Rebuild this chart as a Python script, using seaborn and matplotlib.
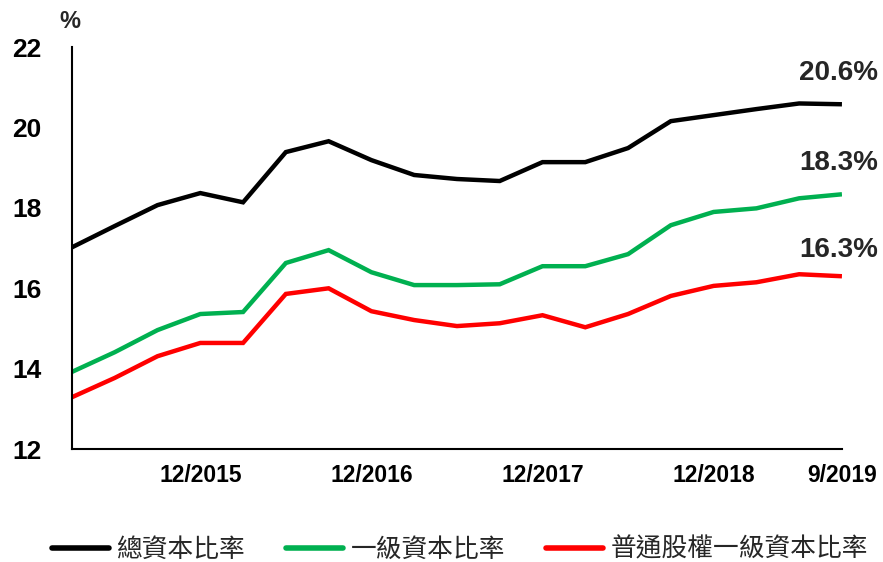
import matplotlib
matplotlib.use('Agg')
import matplotlib.pyplot as plt
import seaborn as sns
import numpy as np
import pandas as pd
from matplotlib.lines import Line2D

quarters = ['3/2015', '6/2015', '9/2015', '12/2015', '3/2016', '6/2016', '9/2016', '12/2016',
            '3/2017', '6/2017', '9/2017', '12/2017', '3/2018', '6/2018', '9/2018', '12/2018',
            '3/2019', '6/2019', '9/2019']
total_ratio = [17.02, 17.55, 18.07, 18.37, 18.14, 19.39, 19.66, 19.19, 18.82, 18.72, 18.67,
               19.14, 19.14, 19.49, 20.16, 20.31, 20.46, 20.60, 20.58]
tier1_ratio = [13.92, 14.41, 14.96, 15.36, 15.41, 16.63, 16.95, 16.40, 16.08, 16.08, 16.10,
               16.55, 16.55, 16.85, 17.57, 17.90, 17.99, 18.24, 18.34]
cet1_ratio = [13.29, 13.77, 14.31, 14.64, 14.64, 15.86, 16.00, 15.43, 15.21, 15.06, 15.13,
              15.33, 15.03, 15.36, 15.81, 16.06, 16.15, 16.35, 16.30]
series_names = ['總資本比率', '一級資本比率', '普通股權一級資本比率']
end_labels = ['20.6%', '18.3%', '16.3%']
shown_ticks = ['12/2015', '12/2016', '12/2017', '12/2018', '9/2019']
colors = ['#000000', '#00B050', '#FF0000']

sns.set_style('white')
plt.rcParams['font.family'] = ['Liberation Sans', 'Noto Sans CJK TC', 'DejaVu Sans']

rows = []
for name, vals in zip(series_names, [total_ratio, tier1_ratio, cet1_ratio]):
    for i, v in enumerate(vals):
        rows.append({'idx': i, 'value': v, 'series': name})
df = pd.DataFrame(rows)

fig = plt.figure(figsize=(8.83, 5.62), dpi=100)
ax = fig.add_axes([0.0815, 0.201, 0.872, 0.715])
sns.lineplot(data=df, x='idx', y='value', hue='series', palette=colors,
             linewidth=3.2, ax=ax, legend=False)
for line in ax.get_lines():
    line.set_solid_capstyle('butt')
    line.set_solid_joinstyle('miter')

ax.set_xlim(0, len(quarters) - 1)
ax.set_ylim(12, 22)
ax.set_yticks(np.arange(12, 23, 2))
ax.set_xticks(range(1, len(quarters)))
ax.set_xticklabels([q if q in shown_ticks else '' for q in quarters[1:]])
ax.tick_params(axis='x', direction='in', length=6, width=1.3, pad=11,
               labelsize=16.5, colors='black')
ax.tick_params(axis='y', direction='in', length=6, width=1.3, pad=22,
               labelsize=19, colors='black')
for lab in ax.get_xticklabels() + ax.get_yticklabels():
    lab.set_fontweight('bold')
ax.set_xlabel('')
ax.set_ylabel('')
for s in ['top', 'right']:
    ax.spines[s].set_visible(False)
for s in ['left', 'bottom']:
    ax.spines[s].set_color('black')
    ax.spines[s].set_linewidth(1.5)

fig.text(0.079, 0.962, '%', fontsize=17, fontweight='bold', ha='center', va='center')

end_y = [0.870, 0.710, 0.555]
for txt, y in zip(end_labels, end_y):
    fig.text(0.950, y, txt, fontsize=20, fontweight='bold', ha='center', va='center')

handles = [Line2D([0], [0], color=c, linewidth=4, solid_capstyle='round') for c in colors]
leg = fig.legend(handles, series_names, loc='center', bbox_to_anchor=(0.521, 0.022),
                 ncol=3, frameon=False, handlelength=2.2, handletextpad=0.3,
                 columnspacing=1.6, borderpad=0.2,
                 prop={'family': ['Noto Sans CJK TC'], 'size': 18.5})

fig.savefig('out.png', dpi=100)
